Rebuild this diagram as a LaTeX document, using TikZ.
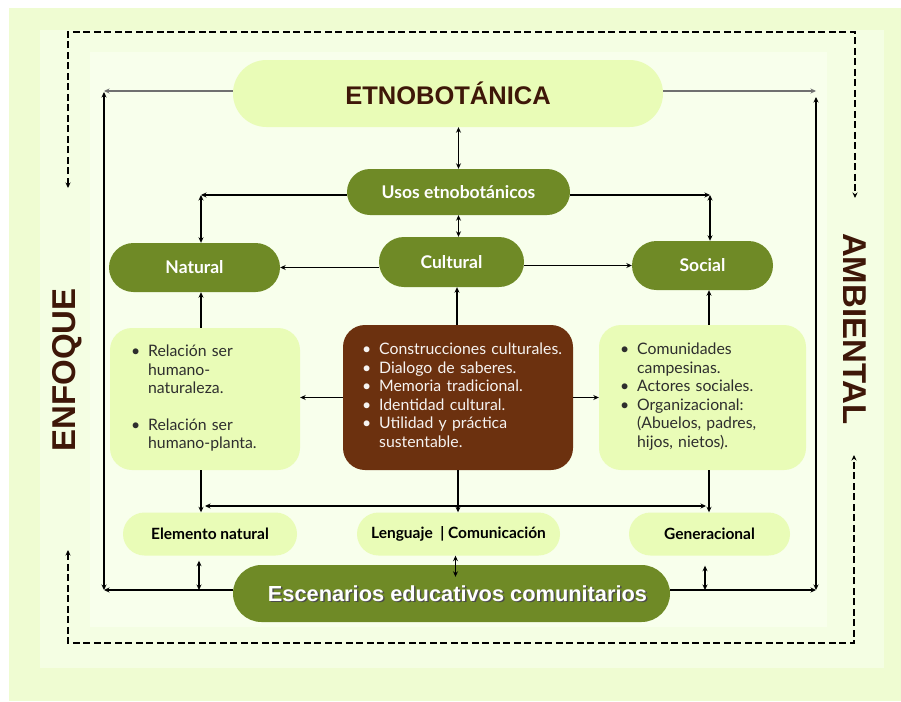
\documentclass[tikz,border=0pt]{standalone}
\usepackage{fontspec}
\setmainfont{Lato}
\newfontfamily\headfont{Liberation Sans}
\usetikzlibrary{arrows.meta,shapes.misc}

\definecolor{bgouter}{HTML}{EFFCD2}
\definecolor{bgmid}{HTML}{F4FEE3}
\definecolor{bginner}{HTML}{F8FFEC}
\definecolor{pale}{HTML}{E9FCB7}
\definecolor{olive}{HTML}{6F8A26}
\definecolor{bark}{HTML}{6C310F}
\definecolor{darkbrown}{HTML}{3E1708}
\definecolor{linkgray}{HTML}{707070}
\definecolor{inktext}{HTML}{2E2E2E}

\tikzset{
  pilldark/.style={rounded rectangle, fill=olive, text=white, inner sep=0pt,
    font=\fontsize{17.5}{20}\selectfont\bfseries},
  pilllight/.style={rounded rectangle, fill=pale, text=black, inner sep=0pt,
    font=\fontsize{15.5}{18}\selectfont\bfseries},
  listbox/.style={rectangle, rounded corners=22pt, inner xsep=21pt, inner ysep=0pt,
    align=left, font=\fontsize{15.8}{18.5}\selectfont},
  link/.style={line width=1.3pt, >={Stealth[length=5.5pt,width=5pt]}},
  graylink/.style={link, draw=linkgray},
  dashlink/.style={link, dash pattern=on 7pt off 3.5pt}
}

\newcommand{\bul}{\textbullet}

\begin{document}
\begin{tikzpicture}[x=1pt,y=-1pt]
\useasboundingbox (0,0) rectangle (901,701);
\fill [white] (0,0) rectangle (901,701);
\fill [bgouter] (9,8) rectangle (901,701);
\fill [bgmid] (40,30) rectangle (884,668);
\fill [bginner] (90,52) rectangle (827,627);

\node [rounded rectangle, fill=pale, inner sep=0pt, minimum width=430pt, minimum height=67pt,
  text=darkbrown, font=\headfont\fontsize{25.5}{28}\selectfont\bfseries] (etno) at (448,93.5) {ETNOBOTÁNICA};

\node [pilldark, minimum width=223pt, minimum height=46pt] (usos) at (458.5,192) {Usos etnobotánicos};
\node [pilldark, minimum width=171pt, minimum height=49pt] (natural) at (194.5,267.5) {Natural};
\node [pilldark, minimum width=145pt, minimum height=50pt] (cultural) at (451.5,262) {Cultural};
\node [pilldark, minimum width=141pt, minimum height=49pt] (social) at (702.5,265.5) {Social};

\node [listbox, fill=pale, text=inktext, text width=148pt, minimum height=142pt] (lbox) at (205,399) {%
\begin{tabular}{@{}l@{\hspace{8pt}}l@{}}
\bul & Relación ser\\
 & humano-\\
 & naturaleza.\\[18pt]
\bul & Relación ser\\
 & humano-planta.
\end{tabular}};

\node [listbox, fill=bark, text=white!94!bark, inner xsep=19pt, text width=192pt, minimum height=145pt] (cbox) at (458,397.5) {%
\begin{tabular}{@{}l@{\hspace{8pt}}l@{}}
\bul & Construcciones culturales.\\
\bul & Dialogo de saberes.\\
\bul & Memoria tradicional.\\
\bul & Identidad cultural.\\
\bul & Utilidad y práctica\\
 & sustentable.
\end{tabular}};

\node [listbox, fill=pale, text=inktext, text width=165pt, minimum height=145pt] (rbox) at (702.5,397.5) {%
\begin{tabular}{@{}l@{\hspace{8pt}}l@{}}
\bul & Comunidades\\
 & campesinas.\\
\bul & Actores sociales.\\
\bul & Organizacional:\\
 & (Abuelos, padres,\\
 & hijos, nietos).
\end{tabular}};

\node [pilllight, minimum width=174pt, minimum height=43pt] (elem) at (210,534) {Elemento natural};
\node [pilllight, minimum width=203pt, minimum height=43pt] (leng) at (458.5,534) {Lenguaje\ \ | Comunicación};
\node [pilllight, minimum width=161pt, minimum height=43pt] (gener) at (709.5,534) {Generacional};

\node [rounded rectangle, fill=olive, inner sep=0pt, minimum width=437pt, minimum height=57pt] (esc) at (451.5,593.5) {};
\node [text=black!70, font=\headfont\fontsize{21.8}{24}\selectfont\bfseries] (escshadow) at (459,595) {Escenarios educativos comunitarios};
\node [text=white, font=\headfont\fontsize{21.8}{24}\selectfont\bfseries] (esctext) at (457.5,593.5) {Escenarios educativos comunitarios};

\node [rotate=90, text=darkbrown, font=\headfont\fontsize{33}{36}\selectfont\bfseries] (enfoque) at (67,370) {ENFOQUE};
\node [rotate=-90, text=darkbrown, font=\headfont\fontsize{33}{36}\selectfont\bfseries] (ambiental) at (855,329) {AMBIENTAL};

\coordinate (ltop) at (104,91);
\coordinate (lbot) at (104,590);
\coordinate (rtop) at (816,91);
\coordinate (rbot) at (816,590);
\coordinate (nl) at (201,195);
\coordinate (nr) at (710,195);
\coordinate (busl) at (205,506);
\coordinate (busr) at (706,506);

\draw [graylink,->] (etno.west |- ltop) -- (ltop);
\draw [graylink,->] (etno.east |- rtop) -- (rtop);
\draw [link,<->] ([yshift=-1pt]ltop) -- (lbot);
\draw [link,<->] ([yshift=-6pt]rtop) -- (rbot);
\draw [link,->] (esc.west |- lbot) -- (lbot);
\draw [link,->] (esc.east |- rbot) -- (rbot);

\draw [link,<->] (usos.north) -- (usos.north |- etno.south);
\draw [link,<->] (usos.south) -- (usos.south |- cultural.north);
\draw [link,->] (usos.west |- nl) -- (nl);
\draw [link,->] (usos.east |- nr) -- (nr);
\draw [link,<->] (nl) -- (nl |- natural.north);
\draw [link,<->] (nr) -- (nr |- social.north);

\draw [link,->] (natural.east -| cultural.west) -- (natural.east);
\draw [link,->] (social.west -| cultural.east) -- (social.west);

\draw [link,->] ([xshift=-4pt]lbox.north) -- ([xshift=-4pt]lbox.north |- natural.south);
\draw [link,->] ([xshift=-1pt]cbox.north) -- ([xshift=-1pt]cbox.north |- cultural.south);
\draw [link,->] ([xshift=6.5pt]rbox.north) -- ([xshift=6.5pt]rbox.north |- social.south);

\draw [link,->] (cbox.west) -- (cbox.west -| lbox.east);
\draw [link,->] (cbox.east) -- (rbox.west);

\draw [link,->] ([xshift=-4pt]lbox.south) -- ([xshift=-4pt]lbox.south |- elem.north);
\draw [link,->] (cbox.south) -- (cbox.south |- leng.north);
\draw [link,->] ([xshift=6.5pt]rbox.south) -- ([xshift=6.5pt]rbox.south |- gener.north);
\draw [link,<->] (busl) -- (busr);

\draw [link,<->] ([xshift=-11pt,yshift=-5pt]elem.south) -- ([xshift=-11pt]elem.south |- lbot);
\draw [link,<->] ([xshift=-3pt]leng.south) -- ([xshift=-3pt,yshift=-12pt]leng.south |- esc.north);
\draw [link,<->] ([xshift=-4.5pt,yshift=-10pt]gener.south) -- ([xshift=-4.5pt]gener.south |- rbot);

\draw [dashlink,<->] (68,188) -- (68,32) -- (855,32) -- (855,198);
\draw [dashlink,<->] (68,550) -- (68,643) -- (854,643) -- (854,455);

\end{tikzpicture}
\end{document}
